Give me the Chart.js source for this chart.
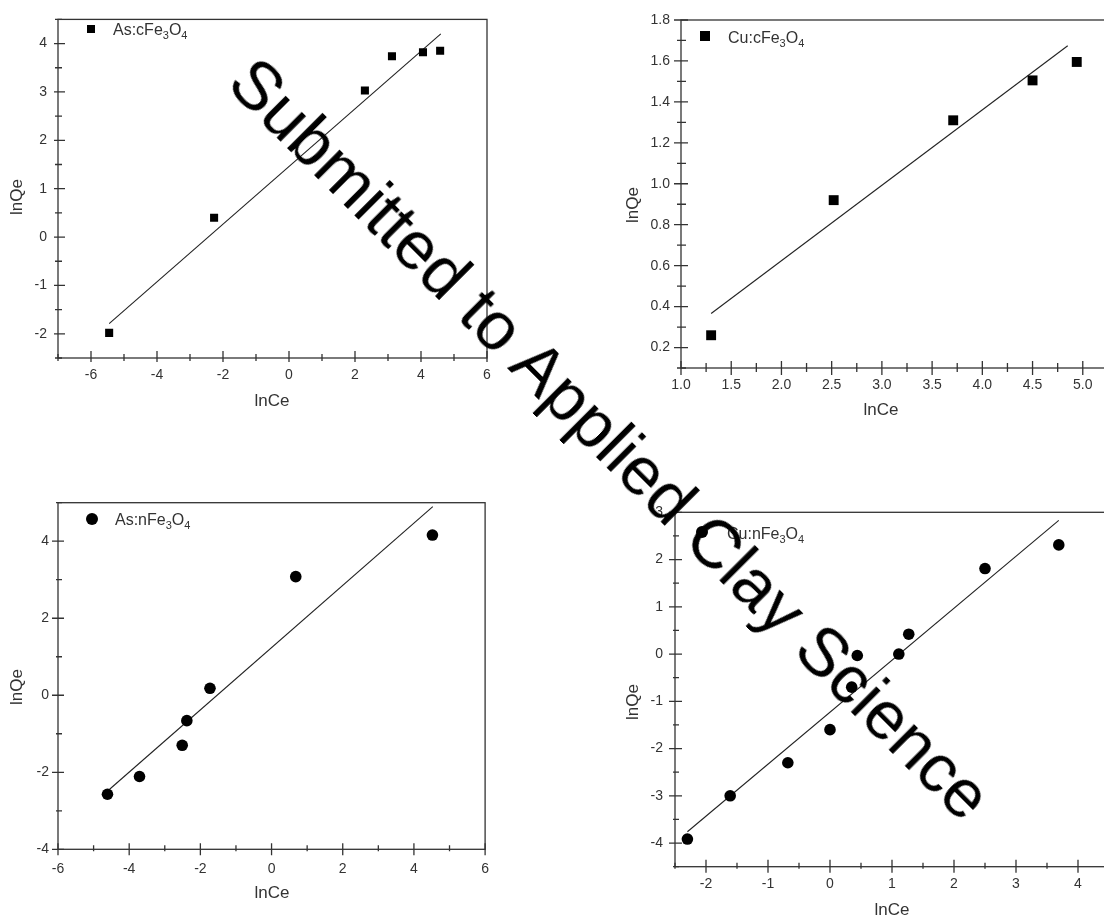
<!DOCTYPE html>
<html>
<head>
<meta charset="utf-8">
<script src="https://cdn.jsdelivr.net/npm/chart.js@4.4.0/dist/chart.umd.min.js"></script>
<style>
  html, body { margin: 0; padding: 0; background: #fff; width: 1104px; height: 922px; overflow: hidden; position: relative; }
  canvas { position: absolute; }
  #c1 { left: 0; top: 0; }
  #c2 { left: 600px; top: 0; }
  #c3 { left: 0; top: 480px; }
  #c4 { left: 600px; top: 480px; }
  #stamp {
    position: absolute; left: 224.6px; top: 28.4px;
    font: 68.3px/68.3px 'Liberation Sans', Arial, sans-serif;
    color: #000; white-space: nowrap;
    transform-origin: 0 57.8px; transform: rotate(45deg);
  }
</style>
</head>
<body>
<canvas id="c1" width="500" height="420"></canvas>
<canvas id="c2" width="540" height="430"></canvas>
<canvas id="c3" width="500" height="442"></canvas>
<canvas id="c4" width="540" height="442"></canvas>
<div id="stamp">Submitted to Applied Clay Science</div>
<script>
// As:cFe3O4 (top left)
const asC_name = "As:cFe3O4";
const asC_lnCe = [-5.45, -2.27, 2.30, 3.12, 4.06, 4.58];
const asC_lnQe = [-1.98, 0.40, 3.03, 3.74, 3.82, 3.85];
const asC_fitCe = [-5.45, 4.60];
const asC_fitQe = [-1.79, 4.20];
const asC_xTicks = [-6, -4, -2, 0, 2, 4, 6];
const asC_yTicks = [-2, -1, 0, 1, 2, 3, 4];

// Cu:cFe3O4 (top right)
const cuC_name = "Cu:cFe3O4";
const cuC_lnCe = [1.30, 2.52, 3.71, 4.50, 4.94];
const cuC_lnQe = [0.26, 0.92, 1.31, 1.505, 1.595];
const cuC_fitCe = [1.30, 4.85];
const cuC_fitQe = [0.366, 1.674];
const cuC_xTicks = [1.0, 1.5, 2.0, 2.5, 3.0, 3.5, 4.0, 4.5, 5.0];
const cuC_yTicks = [0.2, 0.4, 0.6, 0.8, 1.0, 1.2, 1.4, 1.6, 1.8];

// As:nFe3O4 (bottom left)
const asN_name = "As:nFe3O4";
const asN_lnCe = [-4.61, -3.71, -2.51, -2.38, -1.73, 0.68, 4.52];
const asN_lnQe = [-2.57, -2.11, -1.30, -0.66, 0.18, 3.08, 4.16];
const asN_fitCe = [-4.55, 4.53];
const asN_fitQe = [-2.44, 4.90];
const asN_xTicks = [-6, -4, -2, 0, 2, 4, 6];
const asN_yTicks = [-4, -2, 0, 2, 4];

// Cu:nFe3O4 (bottom right)
const cuN_name = "Cu:nFe3O4";
const cuN_lnCe = [-2.30, -1.61, -0.68, 0.00, 0.35, 0.44, 1.11, 1.27, 2.50, 3.69];
const cuN_lnQe = [-3.915, -3.00, -2.30, -1.60, -0.70, -0.03, 0.00, 0.42, 1.81, 2.31];
const cuN_fitCe = [-2.30, 3.69];
const cuN_fitQe = [-3.76, 2.83];
const cuN_xTicks = [-2, -1, 0, 1, 2, 3, 4];
const cuN_yTicks = [-4, -3, -2, -1, 0, 1, 2, 3];

const FONT = "'Liberation Sans', Arial, sans-serif";
Chart.defaults.font.family = FONT;
Chart.defaults.color = '#333';

// small ticks half way between the labelled ones
function minorOf(major, min, max) {
  const step = major[1] - major[0];
  const out = [];
  for (let v = major[0] - step / 2; v <= max + 1e-9; v += step) {
    if (v >= min - 1e-9) out.push(+v.toFixed(4));
  }
  return out;
}

const toPts = (xs, ys) => xs.map((x, i) => ({ x: x, y: ys[i] }));

// frame, crossing tick marks, axis titles and the legend with subscripts
const framePlugin = {
  id: 'frame',
  afterDraw(chart, args, o) {
    const { ctx, chartArea: a } = chart;
    const x = chart.scales.x, y = chart.scales.y;
    ctx.save();
    ctx.strokeStyle = '#333';
    ctx.lineWidth = 1.3;
    ctx.strokeRect(a.left, a.top, a.right - a.left, a.bottom - a.top);

    ctx.beginPath();
    const xt = (vals, inn, out) => vals.forEach(v => {
      const p = x.getPixelForValue(v);
      ctx.moveTo(p, a.bottom - inn); ctx.lineTo(p, a.bottom + out);
    });
    const yt = (vals, inn, out) => vals.forEach(v => {
      const p = y.getPixelForValue(v);
      ctx.moveTo(a.left - out, p); ctx.lineTo(a.left + inn, p);
    });
    const t = o.tick;
    xt(o.xMajor, t[0], t[1]);
    xt(minorOf(o.xMajor, x.min, x.max), t[2], t[3]);
    yt(o.yMajor, t[0], t[1]);
    yt(minorOf(o.yMajor, y.min, y.max), t[2], t[3]);
    ctx.stroke();

    // axis titles
    ctx.fillStyle = '#333';
    ctx.font = '17px ' + FONT;
    ctx.textAlign = 'center';
    ctx.textBaseline = 'middle';
    ctx.fillText('lnCe', o.xTitle[0], o.xTitle[1]);
    ctx.save();
    ctx.translate(o.yTitle[0], o.yTitle[1]);
    ctx.rotate(-Math.PI / 2);
    ctx.fillText('lnQe', 0, 0);
    ctx.restore();

    // legend
    const L = o.legend;
    ctx.fillStyle = '#000';
    if (L.shape === 'rect') {
      ctx.fillRect(L.mx - L.size / 2, L.my - L.size / 2, L.size, L.size);
    } else {
      ctx.beginPath();
      ctx.arc(L.mx, L.my, L.size / 2, 0, Math.PI * 2);
      ctx.fill();
    }
    ctx.fillStyle = '#333';
    ctx.textAlign = 'left';
    ctx.textBaseline = 'alphabetic';
    let tx = L.tx;
    o.name.split(/(\d+)/).forEach((part, i) => {
      if (!part) return;
      const sub = i % 2 === 1;
      ctx.font = (sub ? '11px ' : '16px ') + FONT;
      ctx.fillText(part, tx, L.ty + (sub ? 4 : 0));
      tx += ctx.measureText(part).width;
    });
    ctx.restore();
  }
};

function panel(id, p) {
  return new Chart(document.getElementById(id), {
    type: 'scatter',
    data: {
      datasets: [
        {
          label: p.name,
          data: toPts(p.ce, p.qe),
          pointStyle: p.shape,
          pointRadius: p.radius,
          backgroundColor: '#000',
          borderWidth: 0
        },
        {
          label: 'fit',
          data: toPts(p.fitCe, p.fitQe),
          showLine: true,
          pointRadius: 0,
          borderColor: '#222',
          borderWidth: 1.1
        }
      ]
    },
    options: {
      responsive: false,
      animation: false,
      events: [],
      layout: { padding: p.pad },
      plugins: {
        legend: { display: false },
        tooltip: { enabled: false },
        frame: {
          name: p.name, xMajor: p.xTicks, yMajor: p.yTicks, tick: p.tick,
          xTitle: p.xTitle, yTitle: p.yTitle, legend: p.legend
        }
      },
      scales: {
        x: {
          type: 'linear', min: p.xMin, max: p.xMax,
          afterBuildTicks: s => { s.ticks = p.xTicks.map(v => ({ value: v })); },
          afterFit: s => { s.height = p.xH; },
          grid: { display: false, drawTicks: false },
          border: { display: false },
          ticks: {
            autoSkip: false, maxRotation: 0, padding: p.xPad,
            font: { size: 14 }, color: '#333',
            callback: v => v.toFixed(p.dec)
          }
        },
        y: {
          type: 'linear', min: p.yMin, max: p.yMax,
          afterBuildTicks: s => { s.ticks = p.yTicks.map(v => ({ value: v })); },
          afterFit: s => { s.width = p.yW; },
          grid: { display: false, drawTicks: false },
          border: { display: false },
          ticks: {
            autoSkip: false, padding: p.yPad,
            font: { size: 14 }, color: '#333',
            callback: v => v.toFixed(p.dec)
          }
        }
      }
    },
    plugins: [framePlugin]
  });
}

panel('c1', {
  name: asC_name, ce: asC_lnCe, qe: asC_lnQe, fitCe: asC_fitCe, fitQe: asC_fitQe,
  xTicks: asC_xTicks, yTicks: asC_yTicks, xMin: -7, xMax: 6, yMin: -2.5, yMax: 4.5, dec: 0,
  shape: 'rect', radius: 5.7,
  pad: { top: 10, right: 13, left: 0, bottom: 0 }, xH: 62, yW: 58, xPad: 9, yPad: 11,
  tick: [7, 4, 4, 3], xTitle: [272, 401], yTitle: [17, 197],
  legend: { shape: 'rect', size: 8, mx: 91, my: 29, tx: 113, ty: 35 }
});

panel('c2', {
  name: cuC_name, ce: cuC_lnCe, qe: cuC_lnQe, fitCe: cuC_fitCe, fitQe: cuC_fitQe,
  xTicks: cuC_xTicks, yTicks: cuC_yTicks, xMin: 1.0, xMax: 5.5, yMin: 0.1, yMax: 1.8, dec: 1,
  shape: 'rect', radius: 7,
  pad: { top: 20, right: 6, left: 0, bottom: 0 }, xH: 62, yW: 81, xPad: 9, yPad: 11,
  tick: [7, 7, 5, 4], xTitle: [281, 410], yTitle: [33, 205],
  legend: { shape: 'rect', size: 10, mx: 105, my: 36, tx: 128, ty: 43 }
});

panel('c3', {
  name: asN_name, ce: asN_lnCe, qe: asN_lnQe, fitCe: asN_fitCe, fitQe: asN_fitQe,
  xTicks: asN_xTicks, yTicks: asN_yTicks, xMin: -6, xMax: 6, yMin: -4, yMax: 5, dec: 0,
  shape: 'circle', radius: 5.8,
  pad: { top: 22.7, right: 13, left: 0, bottom: 0 }, xH: 72.7, yW: 58, xPad: 11, yPad: 9,
  tick: [6, 6, 4, 2], xTitle: [272, 413], yTitle: [17, 207],
  legend: { shape: 'circle', size: 12, mx: 92, my: 39, tx: 115, ty: 45 }
});

panel('c4', {
  name: cuN_name, ce: cuN_lnCe, qe: cuN_lnQe, fitCe: cuN_fitCe, fitQe: cuN_fitQe,
  xTicks: cuN_xTicks, yTicks: cuN_yTicks, xMin: -2.5, xMax: 4.5, yMin: -4.5, yMax: 3, dec: 0,
  shape: 'circle', radius: 5.8,
  pad: { top: 32.3, right: 31, left: 0, bottom: 0 }, xH: 55.3, yW: 75, xPad: 9, yPad: 12,
  tick: [7, 6, 4, 2], xTitle: [292, 430], yTitle: [33, 222],
  legend: { shape: 'circle', size: 12, mx: 102, my: 52, tx: 127, ty: 59 }
});
</script>
</body>
</html>
